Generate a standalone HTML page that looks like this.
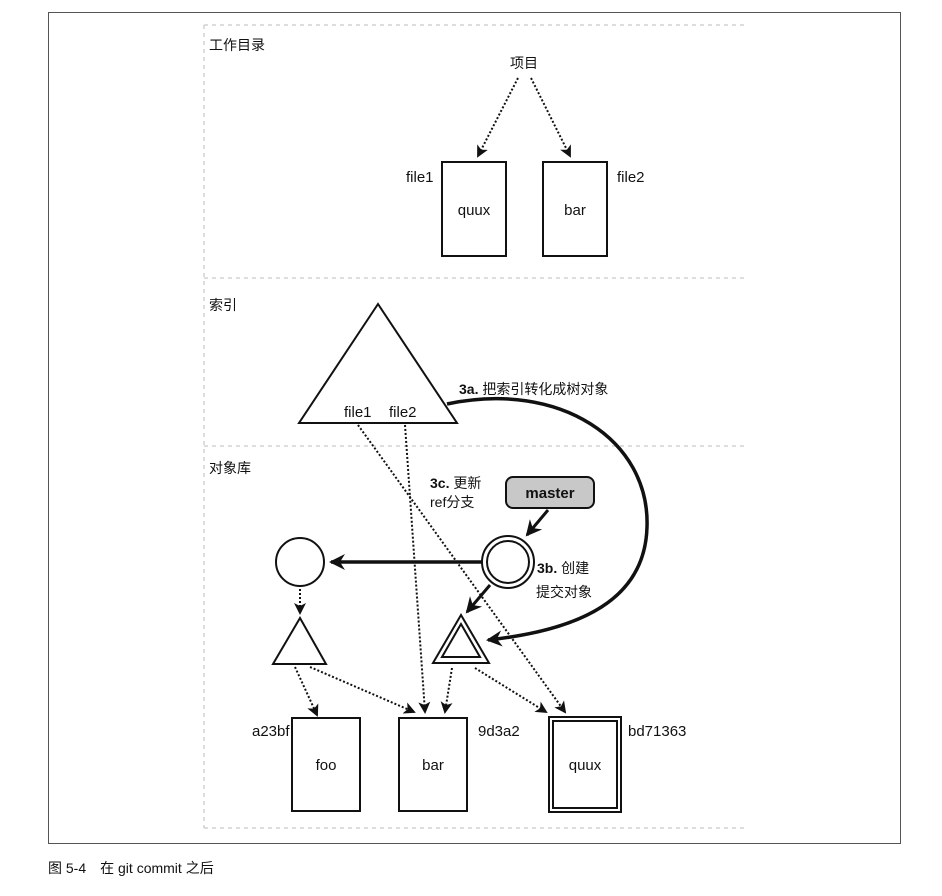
<!DOCTYPE html>
<html><head><meta charset="utf-8"><style>
body{margin:0;background:#fff}
svg{display:block}
text{font-family:"Liberation Sans","Noto Sans CJK SC",sans-serif;fill:#111}
.cn{font-size:14px}
.lb{font-size:15px;font-family:"Liberation Sans Narrow","Liberation Sans","Noto Sans CJK SC",sans-serif}
</style></head><body>
<svg width="942" height="896" viewBox="0 0 942 896">
<defs>
<marker id="ah" markerWidth="12" markerHeight="12" refX="10" refY="6" orient="auto" markerUnits="userSpaceOnUse"><path d="M0,0 L12,6 L0,12 L3,6 Z" fill="#111"/></marker>
<marker id="ahb" markerWidth="18" markerHeight="16" refX="14" refY="8" orient="auto" markerUnits="userSpaceOnUse"><path d="M0,0 L16,8 L0,16 L5,8 Z" fill="#111"/></marker>
</defs>
<rect x="48.5" y="12.5" width="852" height="831" fill="none" stroke="#555" stroke-width="1"/>
<g stroke="#bbb" stroke-dasharray="4,4" stroke-width="1" fill="none">
<line x1="204" y1="25" x2="745" y2="25"/>
<line x1="204" y1="278" x2="745" y2="278"/>
<line x1="204" y1="446" x2="745" y2="446"/>
<line x1="204" y1="828" x2="745" y2="828"/>
<line x1="204" y1="25" x2="204" y2="828"/>
</g>
<text x="209" y="50" class="cn">工作目录</text>
<text x="209" y="310" class="cn">索引</text>
<text x="209" y="473" class="cn">对象库</text>
<text x="510" y="68" class="cn">项目</text>
<g stroke="#111" stroke-width="2" stroke-dasharray="2,2" fill="none" marker-end="url(#ah)">
<line x1="518" y1="78" x2="478" y2="156"/>
<line x1="531" y1="78" x2="570" y2="156"/>
</g>
<g fill="#fff" stroke="#111" stroke-width="2">
<rect x="442" y="162" width="64" height="94"/>
<rect x="543" y="162" width="64" height="94"/>
</g>
<text x="474" y="215" class="lb" text-anchor="middle">quux</text>
<text x="575" y="215" class="lb" text-anchor="middle">bar</text>
<text x="406" y="182" class="lb">file1</text>
<text x="617" y="182" class="lb">file2</text>
<polygon points="378,304 299,423 457,423" fill="#fff" stroke="#111" stroke-width="2"/>
<text x="344" y="417" class="lb">file1</text>
<text x="389" y="417" class="lb">file2</text>
<text x="459" y="394" class="cn"><tspan font-weight="bold">3a.</tspan> 把索引转化成树对象</text>
<path d="M447,404 C560,380 650,440 647,527 C645,600 580,630 488,640" fill="none" stroke="#111" stroke-width="3.5" marker-end="url(#ahb)"/>
<g stroke="#111" stroke-width="2" stroke-dasharray="2,2" fill="none" marker-end="url(#ah)">
<line x1="358" y1="425" x2="565" y2="712"/>
<line x1="405" y1="425" x2="425" y2="712"/>
<line x1="300" y1="589" x2="300" y2="613"/>
<line x1="295" y1="667" x2="317" y2="715"/>
<line x1="310" y1="667" x2="414" y2="712"/>
<line x1="452" y1="668" x2="445" y2="712"/>
<line x1="475" y1="668" x2="546" y2="712"/>
</g>
<text x="430" y="488" class="cn"><tspan font-weight="bold">3c.</tspan> 更新</text>
<text x="430" y="507" class="cn">ref分支</text>
<rect x="506" y="477" width="88" height="31" rx="7" fill="#c8c8c8" stroke="#111" stroke-width="2"/>
<text x="550" y="498" class="lb" font-weight="bold" text-anchor="middle">master</text>
<line x1="548" y1="510" x2="527" y2="535" stroke="#111" stroke-width="3" marker-end="url(#ahb)"/>
<line x1="482" y1="562" x2="331" y2="562" stroke="#111" stroke-width="3.5" marker-end="url(#ahb)"/>
<circle cx="300" cy="562" r="24" fill="#fff" stroke="#111" stroke-width="2"/>
<circle cx="508" cy="562" r="26" fill="#fff" stroke="#111" stroke-width="2"/>
<circle cx="508" cy="562" r="21" fill="none" stroke="#111" stroke-width="2"/>
<text x="537" y="573" class="cn"><tspan font-weight="bold">3b.</tspan> 创建</text>
<text x="536" y="597" class="cn">提交对象</text>
<line x1="490" y1="585" x2="467" y2="612" stroke="#111" stroke-width="3" marker-end="url(#ahb)"/>
<polygon points="300,618 273,664 326,664" fill="#fff" stroke="#111" stroke-width="2"/>
<polygon points="461,615 433,663 489,663" fill="#fff" stroke="#111" stroke-width="2"/>
<polygon points="461,624 442,657 480,657" fill="none" stroke="#111" stroke-width="2"/>
<g fill="#fff" stroke="#111" stroke-width="2">
<rect x="292" y="718" width="68" height="93"/>
<rect x="399" y="718" width="68" height="93"/>
<rect x="549" y="717" width="72" height="95"/>
<rect x="553" y="721" width="64" height="87"/>
</g>
<text x="326" y="770" class="lb" text-anchor="middle">foo</text>
<text x="433" y="770" class="lb" text-anchor="middle">bar</text>
<text x="585" y="770" class="lb" text-anchor="middle">quux</text>
<text x="252" y="736" class="lb">a23bf</text>
<text x="478" y="736" class="lb">9d3a2</text>
<text x="628" y="736" class="lb">bd71363</text>
<text x="48" y="873" font-size="15" class="cn">图 5-4　在 git commit 之后</text>
</svg>
</body></html>
